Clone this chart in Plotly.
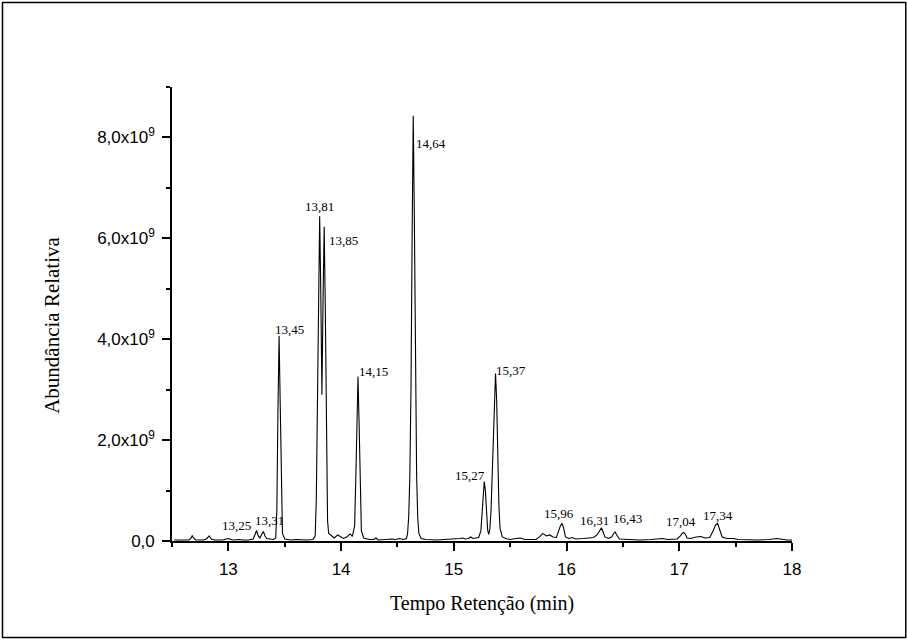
import numpy as np
import plotly.graph_objects as go

# Chromatogram trace: retention time (min) and relative abundance (x1e9)
tempo = [
    12.52, 12.60, 12.65, 12.67, 12.68, 12.69, 12.71, 12.78, 12.81, 12.83,
    12.85, 12.88, 12.95, 12.98, 13.00, 13.02, 13.05, 13.10, 13.12, 13.18,
    13.22, 13.235, 13.25, 13.265, 13.28, 13.295, 13.31, 13.325, 13.34, 13.37,
    13.40, 13.42, 13.43, 13.44, 13.45, 13.46, 13.47, 13.48, 13.50, 13.55,
    13.60, 13.65, 13.70, 13.75, 13.77, 13.78, 13.79, 13.80, 13.81, 13.82,
    13.83, 13.84, 13.85, 13.86, 13.87, 13.88, 13.89, 13.91, 13.94, 13.97,
    14.00, 14.02, 14.05, 14.08, 14.10, 14.12, 14.13, 14.14, 14.15, 14.16,
    14.17, 14.18, 14.20, 14.25, 14.29, 14.31, 14.33, 14.37, 14.42, 14.45,
    14.48, 14.52, 14.55, 14.58, 14.59, 14.60, 14.61, 14.62, 14.63, 14.64,
    14.65, 14.66, 14.67, 14.68, 14.69, 14.71, 14.75, 14.85, 14.95, 15.00,
    15.05, 15.08, 15.10, 15.13, 15.15, 15.17, 15.20, 15.22, 15.24, 15.25,
    15.26, 15.27, 15.28, 15.29, 15.30, 15.31, 15.32, 15.33, 15.34, 15.35,
    15.36, 15.37, 15.38, 15.39, 15.40, 15.41, 15.43, 15.46, 15.50, 15.55,
    15.59, 15.63, 15.68, 15.73, 15.76, 15.79, 15.82, 15.85, 15.88, 15.91,
    15.93, 15.945, 15.96, 15.975, 15.99, 16.02, 16.05, 16.08, 16.15, 16.20,
    16.24, 16.27, 16.295, 16.31, 16.325, 16.34, 16.37, 16.40, 16.415, 16.43,
    16.445, 16.47, 16.55, 16.65, 16.75, 16.80, 16.85, 16.90, 16.98, 17.01,
    17.025, 17.04, 17.055, 17.07, 17.10, 17.15, 17.19, 17.23, 17.27, 17.30,
    17.32, 17.34, 17.36, 17.38, 17.42, 17.48, 17.52, 17.60, 17.70, 17.80,
    17.86, 17.90, 17.95, 18.00,
]
abundancia = [
    0.02, 0.02, 0.02, 0.06, 0.11, 0.06, 0.02, 0.02, 0.05, 0.10,
    0.04, 0.02, 0.02, 0.04, 0.05, 0.03, 0.02, 0.03, 0.02, 0.02,
    0.04, 0.12, 0.21, 0.10, 0.06, 0.13, 0.19, 0.10, 0.05, 0.04,
    0.03, 0.06, 0.60, 2.60, 4.07, 2.70, 0.80, 0.15, 0.04, 0.02,
    0.03, 0.02, 0.02, 0.03, 0.10, 0.80, 3.00, 5.60, 6.44, 4.90,
    2.90, 4.80, 6.23, 4.60, 1.70, 0.40, 0.15, 0.12, 0.06, 0.12,
    0.07, 0.05, 0.08, 0.14, 0.09, 0.30, 1.20, 2.70, 3.26, 2.30,
    0.80, 0.20, 0.06, 0.03, 0.03, 0.06, 0.02, 0.03, 0.03, 0.04,
    0.03, 0.05, 0.03, 0.05, 0.15, 0.50, 1.30, 3.00, 6.00, 8.43,
    6.40, 3.20, 1.30, 0.45, 0.15, 0.05, 0.03, 0.02, 0.03, 0.04,
    0.05, 0.06, 0.04, 0.05, 0.08, 0.05, 0.06, 0.07, 0.20, 0.55,
    0.95, 1.18, 1.00, 0.55, 0.22, 0.13, 0.25, 0.60, 1.30, 2.30,
    3.00, 3.32, 2.80, 1.70, 0.70, 0.25, 0.08, 0.05, 0.03, 0.05,
    0.06, 0.03, 0.03, 0.03, 0.08, 0.15, 0.10, 0.12, 0.08, 0.07,
    0.20, 0.30, 0.35, 0.25, 0.08, 0.05, 0.07, 0.04, 0.05, 0.06,
    0.07, 0.12, 0.22, 0.26, 0.18, 0.08, 0.05, 0.08, 0.14, 0.18,
    0.12, 0.04, 0.03, 0.02, 0.03, 0.04, 0.05, 0.03, 0.04, 0.10,
    0.15, 0.17, 0.13, 0.06, 0.05, 0.08, 0.09, 0.06, 0.07, 0.20,
    0.31, 0.35, 0.22, 0.08, 0.05, 0.05, 0.03, 0.02, 0.02, 0.03,
    0.05, 0.04, 0.02, 0.02,
]

# Labelled peaks: retention time (text) and apex abundance (x1e9)
picos = [13.25, 13.31, 13.45, 13.81, 13.85, 14.15, 14.64,
         15.27, 15.37, 15.96, 16.31, 16.43, 17.04, 17.34]
picos_altura = [0.21, 0.19, 4.07, 6.44, 6.23, 3.26, 8.43,
                1.18, 3.32, 0.35, 0.26, 0.18, 0.17, 0.35]

# Axis ticks
x_ticks = [13, 14, 15, 16, 17, 18]
x_minor = [12.5, 13.5, 14.5, 15.5, 16.5, 17.5]
y_ticks = [0, 2e9, 4e9, 6e9, 8e9]
y_ticktext = ["0,0", "2,0x10<sup>9</sup>", "4,0x10<sup>9</sup>",
              "6,0x10<sup>9</sup>", "8,0x10<sup>9</sup>"]
y_minor = [1e9, 3e9, 5e9, 7e9, 9e9]

# Label offsets (px) from each apex
label_dx = [-20, 6, 10, 0, 19, 15, 18, -14, 15, -3, -7, 12, -3, 0]
label_dy = [5, 11, 6, 10, -14, 5, -28, 6, 3, 10, 7, 13, 11, 8]

ESCALA = 1e9
y_vals = np.array(abundancia) * ESCALA

SERIF = "Times New Roman, Liberation Serif, serif"
SANS = "Arial, Liberation Sans, sans-serif"

fig = go.Figure()
fig.add_trace(go.Scatter(
    x=tempo, y=y_vals, mode="lines",
    line=dict(color="#000000", width=1.1),
    hoverinfo="x+y", showlegend=False,
))

for t, h, dx, dy in zip(picos, picos_altura, label_dx, label_dy):
    fig.add_annotation(
        x=t, y=h * ESCALA, text=f"{t:.2f}".replace(".", ","),
        showarrow=False, xshift=dx, yshift=dy,
        xanchor="center", yanchor="middle",
        font=dict(family=SERIF, size=13, color="#000000"),
    )

# Axis titles
fig.add_annotation(
    x=0.5, y=-0.1366, xref="paper", yref="paper",
    text="Tempo Retenção (min)", showarrow=False,
    xanchor="center", yanchor="middle",
    font=dict(family=SERIF, size=20, color="#000000"),
)
fig.add_annotation(
    x=-0.1935, y=0.474, xref="paper", yref="paper",
    text="Abundância Relativa", showarrow=False, textangle=-90,
    xanchor="center", yanchor="middle",
    font=dict(family=SERIF, size=21, color="#000000"),
)

# Outer frame around the whole figure
fig.add_shape(
    type="rect", xref="paper", yref="paper",
    x0=-0.2734, x1=1.1835, y0=-0.2125, y1=1.1861,
    line=dict(color="#000000", width=1.5), fillcolor="rgba(0,0,0,0)",
)

axis_common = dict(
    showline=True, linecolor="#000000", linewidth=1.6,
    ticks="outside", ticklen=8, tickwidth=1.6, tickcolor="#000000",
    showgrid=False, zeroline=False,
    tickfont=dict(family=SANS, size=17, color="#000000"),
)

fig.update_xaxes(
    range=[12.5, 18], tickvals=x_ticks, ticktext=[str(v) for v in x_ticks],
    minor=dict(tickvals=x_minor, ticklen=4, tickwidth=1.6,
               tickcolor="#000000", ticks="outside"),
    ticklabelstandoff=4,
    **axis_common,
)
fig.update_yaxes(
    range=[0, 9e9], tickvals=y_ticks, ticktext=y_ticktext,
    minor=dict(tickvals=y_minor, ticklen=4, tickwidth=1.6,
               tickcolor="#000000", ticks="outside"),
    ticklabelstandoff=4,
    **axis_common,
)

fig.update_layout(
    width=907, height=641,
    margin=dict(l=172, r=115, t=87, b=100),
    paper_bgcolor="#ffffff", plot_bgcolor="#ffffff",
)

fig.write_html("out.html")
